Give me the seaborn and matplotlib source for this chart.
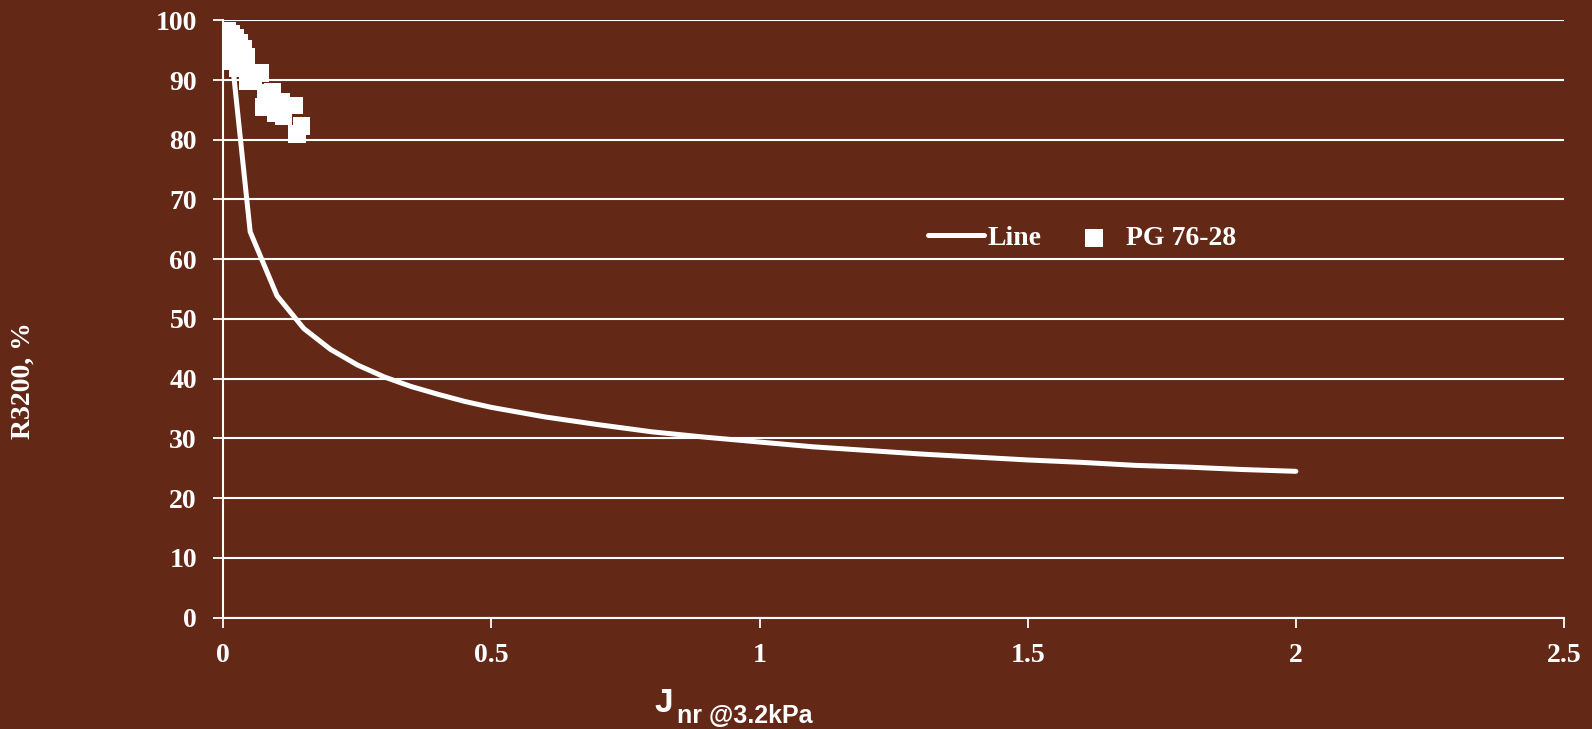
import matplotlib
matplotlib.use("Agg")
import matplotlib.pyplot as plt
import seaborn as sns
import pandas as pd

# Line series
line_x = [0.01, 0.05, 0.10, 0.15, 0.20, 0.25, 0.30, 0.35, 0.40, 0.45, 0.50,
          0.60, 0.70, 0.80, 0.90, 1.00, 1.10, 1.20, 1.30, 1.40, 1.50,
          1.60, 1.70, 1.80, 1.90, 2.00]
line_y = [98.8, 64.6, 53.9, 48.4, 44.9, 42.3, 40.3, 38.7, 37.4, 36.2, 35.2,
          33.6, 32.3, 31.1, 30.2, 29.4, 28.6, 28.0, 27.4, 26.9, 26.4,
          26.0, 25.5, 25.2, 24.8, 24.5]

# PG 76-28 points
pg_x = [0.007, 0.014, 0.022, 0.029, 0.037, 0.043, 0.016, 0.026, 0.041, 0.046,
        0.069, 0.075, 0.080, 0.092, 0.097, 0.107, 0.112, 0.133, 0.137, 0.146,
        0.012, 0.033, 0.055, 0.088]
pg_y = [98.3, 97.8, 97.1, 96.3, 95.2, 93.9, 93.2, 92.0, 92.2, 89.8,
        91.2, 85.5, 87.8, 88.1, 84.4, 86.4, 84.0, 85.7, 81.0, 82.3,
        95.5, 94.5, 90.5, 86.0]

x_ticks = [0, 0.5, 1, 1.5, 2, 2.5]
x_tick_labels = ["0", "0.5", "1", "1.5", "2", "2.5"]
y_ticks = [0, 10, 20, 30, 40, 50, 60, 70, 80, 90, 100]

BG = "#632816"
sns.set_theme(style="white")
plt.rcParams["font.family"] = ["Liberation Serif", "DejaVu Serif"]

fig = plt.figure(figsize=(15.92, 7.29), dpi=100, facecolor=BG)
ax = fig.add_axes([0.1403, 0.1527, 0.9824 - 0.1403, 0.9722 - 0.1527])
ax.set_facecolor(BG)

line_df = pd.DataFrame({"x": line_x, "y": line_y})
pg_df = pd.DataFrame({"x": pg_x, "y": pg_y})

sns.lineplot(data=line_df, x="x", y="y", ax=ax, color="white", linewidth=3.6,
             label="Line", zorder=3, solid_capstyle="round")
sns.scatterplot(data=pg_df, x="x", y="y", ax=ax, color="white", marker="s",
                s=160, edgecolor="none", linewidth=0, label="PG 76-28", zorder=4)

ax.set_xlim(0, 2.5)
ax.set_ylim(0, 100)
ax.set_xticks(x_ticks)
ax.set_xticklabels(x_tick_labels)
ax.set_yticks(y_ticks)
ax.yaxis.grid(True, color="white", linewidth=1.5)
ax.xaxis.grid(False)
ax.set_axisbelow(True)

for s in ["top", "right"]:
    ax.spines[s].set_visible(False)
for s in ["left", "bottom"]:
    ax.spines[s].set_color("white")
    ax.spines[s].set_linewidth(1.5)

ax.tick_params(axis="both", colors="white", direction="out", length=7.5, width=1.3,
               labelsize=20, bottom=True, left=True)
ax.tick_params(axis="x", pad=11)
ax.tick_params(axis="y", pad=11.5)
for lab in ax.get_xticklabels() + ax.get_yticklabels():
    lab.set_fontweight("bold")
    lab.set_color("white")

ax.set_xlabel("")
ax.set_ylabel("")

fig.text(0.01445, 0.4774, "R3200, %", rotation=90, color="white", fontsize=20,
         fontweight="bold", ha="center", va="center")
fig.text(0.4114, 0.0233, "J", color="white", fontsize=24, fontweight="bold",
         family=["Liberation Sans", "DejaVu Sans"], ha="left", va="baseline")
fig.text(0.4253, 0.0082, "nr @3.2kPa", color="white", fontsize=18, fontweight="bold",
         family=["Liberation Sans", "DejaVu Sans"], ha="left", va="baseline")

leg = ax.legend(loc="center left", bbox_to_anchor=(0.5829, 0.673),
                bbox_transform=fig.transFigure, frameon=False, ncol=2,
                borderpad=0, borderaxespad=0,
                prop={"family": "Liberation Serif", "weight": "bold", "size": 20},
                handlelength=2.0, columnspacing=0.88, handletextpad=0.15)
for t in leg.get_texts():
    t.set_color("white")

fig.savefig("out.png", dpi=100, facecolor=BG)
